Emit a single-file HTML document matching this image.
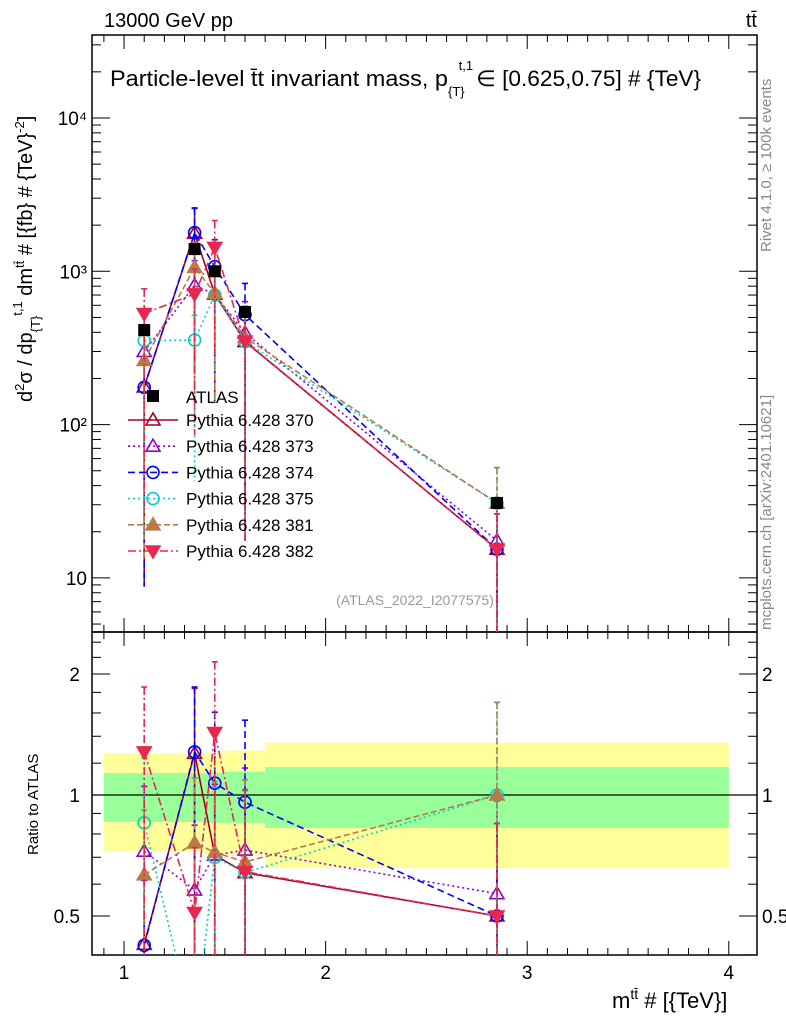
<!DOCTYPE html>
<html><head><meta charset="utf-8"><style>
html,body{margin:0;background:#fff;overflow:hidden;width:786px;height:1024px;}
svg{display:block;font-family:"Liberation Sans",sans-serif;}
</style></head><body>
<svg id="c" width="786" height="1024" viewBox="0 0 786 1024" xmlns="http://www.w3.org/2000/svg"></svg>
<script>
const bins = [1.1, 1.35, 1.45, 1.6, 2.85];
const binEdges = [0.9, 1.3, 1.4, 1.5, 1.7, 4.0];
const atlas = [414, 1396, 1000, 543, 30.8];
const bandYellowHi = [1.27, 1.27, 1.274, 1.29, 1.35];
const bandYellowLo = [0.726, 0.726, 0.717, 0.709, 0.658];
const bandGreenHi = [1.134, 1.134, 1.136, 1.143, 1.174];
const bandGreenLo = [0.857, 0.857, 0.853, 0.852, 0.828];
const seriesNames = ["Pythia 6.428 370","Pythia 6.428 373","Pythia 6.428 374","Pythia 6.428 375","Pythia 6.428 381","Pythia 6.428 382"];
const s370 = [176, 1773, 709, 348, 15.4];
const s373 = [300, 810, 709, 396, 17.5];
const s374 = [175, 1787, 1071, 521, 15.4];
const s375 = [353, 356, 700, 348, 30.8];
const s381 = [262, 1061, 720, 370, 30.8];
const s382 = [530, 712, 1430, 350, 15.4];
const errUp = [0.45, 0.45, 0.5, 0.6, 0.7];
const errDn = [0.95, 0.88, 0.8, 0.95, 0.98];
const yTicksMain = [10, 100, 1000, 10000];
const yTickLabelsMain = ["10", "10²", "10³", "10⁴"];
const ratioTicks = [0.5, 1, 2];
const xTicks = [1, 2, 3, 4];

const NS="http://www.w3.org/2000/svg";
const svg=document.getElementById('c');
const L=92,R=757,T=35,MB=632,RB=955;
const X0=0.841,X1=4.14;
const fx=v=>L+(v-X0)/(X1-X0)*(R-L);
const fy=v=>118-(Math.log10(v)-4)*153.3;
const fr=v=>795-Math.log2(v)*121;
function el(tag,attrs,parent){const e=document.createElementNS(NS,tag);for(const k in attrs)e.setAttribute(k,attrs[k]);(parent||svg).appendChild(e);return e;}
function txt(s,attrs,parent){const e=el('text',attrs,parent);e.textContent=s;return e;}
function tsp(parent,s,attrs){const e=el('tspan',attrs||{},parent);e.textContent=s;return e;}

const defs=el('defs',{});
const cm=el('clipPath',{id:'cm'},defs);el('rect',{x:L,y:T,width:R-L,height:MB-T},cm);
const cr=el('clipPath',{id:'cr'},defs);el('rect',{x:L,y:MB,width:R-L,height:RB-MB},cr);

const gb=el('g',{'clip-path':'url(#cr)'});


for(let i=0;i<bins.length;i++){
  const x1=fx(binEdges[i]),x2=fx(binEdges[i+1]);
  const r1=el('rect',{x:x1,y:fr(bandYellowHi[i]),width:x2-x1,height:fr(bandYellowLo[i])-fr(bandYellowHi[i]),fill:'#ffff99'},gb);
  
  
  const r2=el('rect',{x:x1,y:fr(bandGreenHi[i]),width:x2-x1,height:fr(bandGreenLo[i])-fr(bandGreenHi[i]),fill:'#99ff99'},gb);
  
  
}
el('line',{x1:L,x2:R,y1:fr(1),y2:fr(1),stroke:'#000','stroke-width':1.2});

const f1=el('rect',{x:L,y:T,width:R-L,height:MB-T,fill:'none',stroke:'#000','stroke-width':1.5});

const f2=el('rect',{x:L,y:MB,width:R-L,height:RB-MB,fill:'none',stroke:'#000','stroke-width':1.5});


for(let v=0.9;v<=4.1;v+=0.1){
  const vv=Math.round(v*10)/10;const maj=Math.abs(vv-Math.round(vv))<1e-6;const len=maj?14:7;
  const x=fx(vv);
  [T,MB].forEach(y0=>{el('line',{x1:x,x2:x,y1:y0,y2:y0+len,stroke:'#000'});});
  [MB,RB].forEach(y0=>{el('line',{x1:x,x2:x,y1:y0,y2:y0-len,stroke:'#000'});});
}
xTicks.forEach(v=>{const t=txt(String(v),{x:fx(v),y:979,'font-size':19,'text-anchor':'middle'});
 });

for(let d=0;d<5;d++){for(let m=1;m<10;m++){const v=m*Math.pow(10,d);const y=fy(v);if(y<T||y>MB)continue;
 const len=m===1?18:9;el('line',{x1:L,x2:L+len,y1:y,y2:y,stroke:'#000'});el('line',{x1:R,x2:R-len,y1:y,y2:y,stroke:'#000'});}}
yTicksMain.forEach((v,i)=>{const t=txt(yTickLabelsMain[i],{x:87,y:fy(v)+7,'font-size':19,'text-anchor':'end'});
 });
[0.4,0.5,0.6,0.7,0.8,0.9,1,1.2,1.4,1.6,1.8,2,2.2,2.4].forEach(v=>{const y=fr(v);const maj=ratioTicks.includes(v);const len=maj?18:9;
 el('line',{x1:L,x2:L+len,y1:y,y2:y,stroke:'#000'});el('line',{x1:R,x2:R-len,y1:y,y2:y,stroke:'#000'});});
ratioTicks.forEach(v=>{
 const a=txt(String(v),{x:80,y:fr(v)+7,'font-size':19,'text-anchor':'end'});
 const b=txt(String(v),{x:762,y:fr(v)+7,'font-size':19});});

const series=[
 {d:s370,c:'#a50021',dash:'',m:'tri',fill:false},
 {d:s373,c:'#9400d3',dash:'2,3',m:'tri',fill:false},
 {d:s374,c:'#0000ff',dash:'7,4',m:'circ',fill:false},
 {d:s375,c:'#00d2c8',dash:'2,3',m:'circ',fill:false},
 {d:s381,c:'#b87a48',dash:'6,3',m:'tri',fill:true},
 {d:s382,c:'#e8264f',dash:'8,3,2,3',m:'tridn',fill:true}];
function marker(g,m,x,y,c,fill){
 if(m==='circ')el('circle',{cx:x,cy:y,r:6,fill:fill?c:'none',stroke:c,'stroke-width':1.6},g);
 else if(m==='tri')el('polygon',{points:`${x},${y-7} ${x-7},${y+5} ${x+7},${y+5}`,fill:fill?c:'none',stroke:c,'stroke-width':1.6},g);
 else if(m==='tridn')el('polygon',{points:`${x},${y+7} ${x-7},${y-5} ${x+7},${y-5}`,fill:fill?c:'none',stroke:c,'stroke-width':1.6},g);
 else el('rect',{x:x-6,y:y-6,width:12,height:12,fill:c},g);
}
series.forEach((s,si)=>{
 const gm=el('g',{'clip-path':'url(#cm)'});
 
 
 const gr=el('g',{'clip-path':'url(#cr)'});
 
 
 const sty={stroke:s.c,'stroke-width':1.6,fill:'none'};if(s.dash)sty['stroke-dasharray']=s.dash;
 el('polyline',Object.assign({points:bins.map((b,i)=>fx(b)+','+fy(s.d[i])).join(' ')},sty),gm);
 el('polyline',Object.assign({points:bins.map((b,i)=>fx(b)+','+fr(s.d[i]/atlas[i])).join(' ')},sty),gr);
 bins.forEach((b,i)=>{const x=fx(b);const v=s.d[i];const hi=v*(1+errUp[i]),lo=Math.max(v*(1-errDn[i]),0.01);
  el('line',Object.assign({x1:x,x2:x,y1:fy(hi),y2:fy(lo)},sty),gm);
  el('line',{x1:x-3,x2:x+3,y1:fy(hi),y2:fy(hi),stroke:s.c,'stroke-width':1.6},gm);
  el('line',Object.assign({x1:x,x2:x,y1:fr(hi/atlas[i]),y2:fr(lo/atlas[i])},sty),gr);
  el('line',{x1:x-3,x2:x+3,y1:fr(hi/atlas[i]),y2:fr(hi/atlas[i]),stroke:s.c,'stroke-width':1.6},gr);
  marker(gm,s.m,x,fy(v),s.c,s.fill);marker(gr,s.m,x,fr(v/atlas[i]),s.c,s.fill);});
});
const ga=el('g',{'clip-path':'url(#cm)'});


bins.forEach((b,i)=>marker(ga,'sq',fx(b),fy(atlas[i]),'#000',true));

const lg=el('g',{});


marker(lg,'sq',153,396,'#000',true);
txt('ATLAS',{x:186,y:403,'font-size':17},lg);
series.forEach((s,i)=>{const y=420+i*26.2;
 const sty={x1:128,x2:178,y1:y,y2:y,stroke:s.c,'stroke-width':1.6};if(s.dash)sty['stroke-dasharray']=s.dash;
 el('line',sty,lg);marker(lg,s.m,153,y,s.c,s.fill);
 const t=txt(seriesNames[i],{x:186,y:y+6,'font-size':17},lg);
 });

let t;
t=txt('13000 GeV pp',{x:104,y:27,'font-size':20});
t=txt('tt̄',{x:757,y:27,'font-size':20,'text-anchor':'end'});
t=el('text',{x:110,y:86,'font-size':22});
tsp(t,'Particle-level t̄t invariant mass, p',{textLength:338,lengthAdjust:'spacingAndGlyphs'});
tsp(t,'{T}',{'font-size':13,dy:10});tsp(t,'t,1',{'font-size':13,dx:-6,dy:-26});
tsp(t,'∈ [0.625,0.75] # {TeV}',{dx:3,dy:16,textLength:225,lengthAdjust:'spacingAndGlyphs'});
t=txt('(ATLAS_2022_I2077575)',{x:415,y:605,'font-size':14,fill:'#999','text-anchor':'middle'});
t=txt('Rivet 4.1.0, ≥ 100k events',{x:0,y:0,'font-size':15,fill:'#888',transform:'translate(771,252) rotate(-90)'});
t=txt('mcplots.cern.ch [arXiv:2401.10621]',{x:0,y:0,'font-size':15,fill:'#888',transform:'translate(771,630) rotate(-90)'});
t=el('text',{x:0,y:0,'font-size':20,transform:'translate(32,402) rotate(-90)'});
tsp(t,'d');tsp(t,'2',{'font-size':13,dy:-8});tsp(t,'σ / dp',{dy:8});tsp(t,'{T}',{'font-size':13,dy:8});
tsp(t,'t,1',{'font-size':13,dy:-18});tsp(t,' dm',{dy:10});tsp(t,'tt̄',{'font-size':13,dy:-8});
tsp(t,' # [{fb} # {TeV}',{dy:8});tsp(t,'-2',{'font-size':13,dy:-8});tsp(t,']',{dy:8});
t=txt('Ratio to ATLAS',{x:0,y:0,'font-size':15,transform:'translate(38,855) rotate(-90)'});
t=el('text',{x:612,y:1008,'font-size':22});
tsp(t,'m');tsp(t,'tt̄',{'font-size':14,dy:-9});tsp(t,' # [{TeV}]',{dy:9});
</script>
</body></html>
